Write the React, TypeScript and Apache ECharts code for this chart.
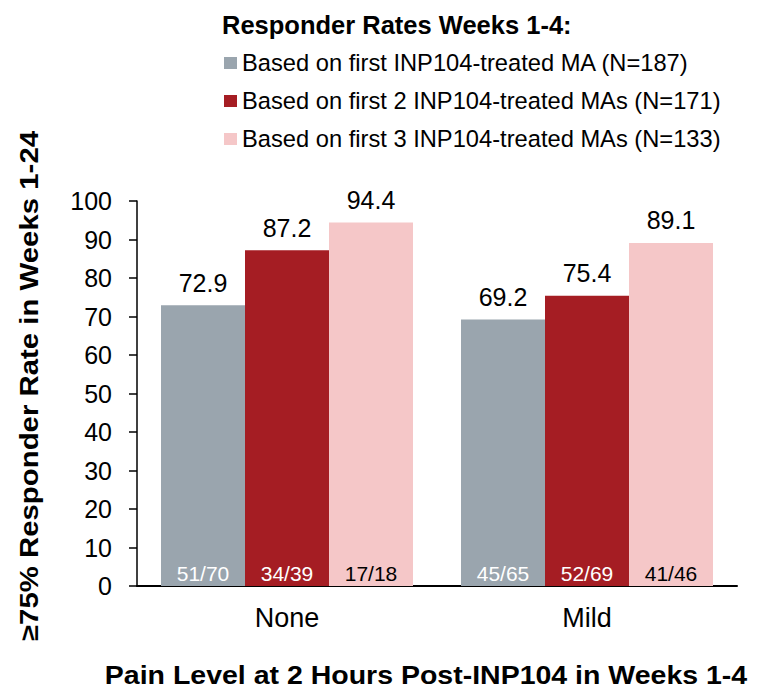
import React, { useEffect, useRef } from "react";
import * as echarts from "echarts";

const categories = ["None", "Mild"];
const seriesNames = [
  "Based on first INP104-treated MA (N=187)",
  "Based on first 2 INP104-treated MAs (N=171)",
  "Based on first 3 INP104-treated MAs (N=133)",
];
const firstMA = [72.9, 69.2];
const first2MA = [87.2, 75.4];
const first3MA = [94.4, 89.1];
const firstMAFrac = ["51/70", "45/65"];
const first2MAFrac = ["34/39", "52/69"];
const first3MAFrac = ["17/18", "41/46"];
const yTicks = [0, 10, 20, 30, 40, 50, 60, 70, 80, 90, 100];

const colors = ["#9AA5AE", "#A51D23", "#F5C7C8"];
const fracColors = ["#ffffff", "#ffffff", "#000000"];
const FONT = "'Liberation Sans', Arial, sans-serif";

export default function App() {
  const ref = useRef<HTMLDivElement>(null);
  useEffect(() => {
    if (!ref.current) return;
    const chart = echarts.init(ref.current, null, { renderer: "svg" });
    const values = [firstMA, first2MA, first3MA];
    const fracs = [firstMAFrac, first2MAFrac, first3MAFrac];
    const mainSeries = values.map((v, i) => ({
      name: seriesNames[i],
      type: "bar",
      xAxisIndex: 0,
      data: v,
      barGap: "0%",
      barCategoryGap: "16%",
      itemStyle: { color: colors[i] },
      label: {
        show: true,
        position: "top",
        distance: 10,
        color: "#000",
        fontFamily: FONT,
        fontSize: 25,
        formatter: (p: any) => p.value.toFixed(1),
      },
    }));
    const overlaySeries = values.map((v, i) => ({
      name: "frac" + i,
      type: "bar",
      xAxisIndex: 1,
      data: v,
      barGap: "0%",
      barCategoryGap: "16%",
      itemStyle: { color: "transparent" },
      silent: true,
      label: {
        show: true,
        position: "insideBottom",
        distance: 2,
        color: fracColors[i],
        fontFamily: FONT,
        fontSize: 21,
        formatter: (p: any) => fracs[i][p.dataIndex],
      },
    }));
    chart.setOption({
      animation: false,
      textStyle: { fontFamily: FONT },
      title: {
        text: "Responder Rates Weeks 1-4:",
        left: 217,
        top: 7,
        textStyle: { fontFamily: FONT, fontSize: 25.5, fontWeight: "bold", color: "#000" },
      },
      legend: {
        orient: "vertical",
        left: 219,
        top: 46,
        itemWidth: 13,
        itemHeight: 12,
        itemGap: 14,
        icon: "rect",
        data: seriesNames,
        textStyle: { fontFamily: FONT, fontSize: 23.7, color: "#000" },
      },
      grid: { left: 137, right: 26, top: 201, bottom: 105 },
      xAxis: [
        {
          type: "category",
          data: categories,
          axisLine: { lineStyle: { color: "#000", width: 2 } },
          axisTick: { show: false },
          axisLabel: { color: "#000", fontSize: 27, fontFamily: FONT, margin: 18 },
        },
        {
          type: "category",
          data: categories,
          show: false,
        },
      ],
      yAxis: {
        type: "value",
        min: 0,
        max: 100,
        interval: 10,
        axisLine: { show: true, lineStyle: { color: "#000", width: 1.5 } },
        axisTick: { show: true, length: 8, lineStyle: { color: "#000", width: 1.5 } },
        splitLine: { show: false },
        axisLabel: {
          color: "#000",
          fontSize: 25,
          fontFamily: FONT,
          margin: 25,
          customValues: yTicks,
        },
      },
      graphic: [
        {
          type: "text",
          x: 29,
          y: 386,
          rotation: Math.PI / 2,
          scaleX: 1.175,
          style: {
            text: "≥75% Responder Rate in Weeks 1-24",
            fontFamily: FONT,
            fontSize: 25,
            fontWeight: "bold",
            fill: "#000",
            align: "center",
            verticalAlign: "middle",
          },
        },
        {
          type: "text",
          x: 426,
          y: 676,
          scaleX: 1.14,
          style: {
            text: "Pain Level at 2 Hours Post-INP104 in Weeks 1-4",
            fontFamily: FONT,
            fontSize: 25,
            fontWeight: "bold",
            fill: "#000",
            align: "center",
            verticalAlign: "middle",
          },
        },
      ],
      series: [...mainSeries, ...overlaySeries],
    });
    return () => chart.dispose();
  }, []);
  return (
    <div
      ref={ref}
      style={{ position: "absolute", left: 0, top: 0, width: 763, height: 691 }}
    />
  );
}
